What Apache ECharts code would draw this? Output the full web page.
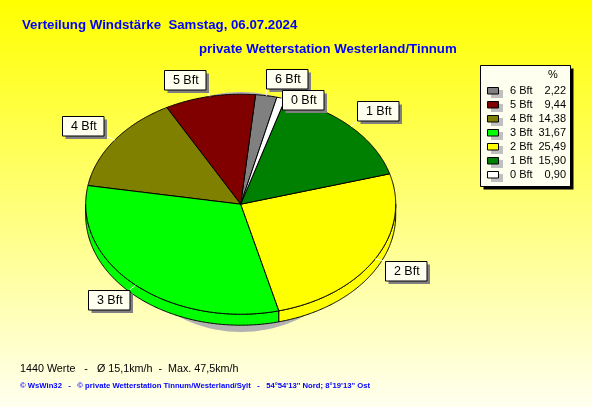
<!DOCTYPE html>
<html><head><meta charset="utf-8">
<style>html,body{margin:0;padding:0;background:#fff}#c{width:592px;height:407px}</style>
<script src="https://cdn.jsdelivr.net/npm/echarts@6/dist/echarts.min.js"></script>
</head><body><div id="c"></div>
<script>
// DATA
var categories = ['6 Bft','5 Bft','4 Bft','3 Bft','2 Bft','1 Bft','0 Bft'];
var percentLabels = ['2,22','9,44','14,38','31,67','25,49','15,90','0,90'];
var percentValues = [2.22,9.44,14.38,31.67,25.49,15.90,0.90];
var sliceColors = ['#808080','#800000','#808000','#00FF00','#FFFF00','#008000','#FFFFFF'];
var titleLine1 = 'Verteilung Windstärke  Samstag, 06.07.2024';
var titleLine2 = 'private Wetterstation Westerland/Tinnum';
var footerLine1 = '1440 Werte   -   Ø 15,1km/h  -  Max. 47,5km/h';
var footerLine2 = "© WsWin32   -   © private Wetterstation Tinnum/Westerland/Sylt   -   54°54'13'' Nord; 8°19'13'' Ost";

// LAYOUT
var PIE = {cx:240.7, cy:204.2, rx:155, ry:110, depth:11, start:13.5};
var LABEL_BOX = {
 '6 Bft':[266,69],'5 Bft':[164,70],'4 Bft':[62,116],'3 Bft':[88,290],
 '2 Bft':[385,261],'1 Bft':[357,101],'0 Bft':[282,90]
};
var BOX_W=41.5, BOX_H=19.5;

// clockwise from the top, starting with 0 Bft
var order = categories.map(function(_,i){return categories.length-1-i;});
var total = percentValues.reduce(function(a,b){return a+b;},0);
var from = {}, acc = 0;
order.forEach(function(i){from[i]=acc; acc+=percentValues[i];});
function deg(p){return PIE.start + p/total*360;}
function pt(a,dy){var t=a*Math.PI/180;return [PIE.cx+PIE.rx*Math.sin(t),PIE.cy-PIE.ry*Math.cos(t)+(dy||0)];}
function arc(a0,a1,dy){var n=Math.max(2,Math.ceil(Math.abs(a1-a0)*2)),r=[];for(var k=0;k<=n;k++)r.push(pt(a0+(a1-a0)*k/n,dy));return r;}
function range(v,i){var a0=deg(from[i]);return [a0,a0+v/total*360];}

var seriesData = categories.map(function(c,i){return {name:c,value:percentValues[i]};});

function sides(params,api){
  var i=params.dataIndex,r=range(api.value(0),i),a0=Math.max(r[0],90),a1=Math.min(r[1],270);
  if(a1<=a0) return {type:'group',children:[]};
  return {type:'polygon',shape:{points:arc(a0,a1,0).concat(arc(a1,a0,PIE.depth))},
    style:{fill:sliceColors[i],stroke:'#000',lineWidth:1}};
}
function tops(params,api){
  var i=params.dataIndex,r=range(api.value(0),i);
  return {type:'polygon',shape:{points:[[PIE.cx,PIE.cy]].concat(arc(r[0],r[1],0))},
    style:{fill:sliceColors[i],stroke:'#000',lineWidth:1}};
}
function labels(params,api){
  var i=params.dataIndex,r=range(api.value(0),i),b=LABEL_BOX[categories[i]];
  var p=pt((r[0]+r[1])/2,0);
  var q=[Math.min(Math.max(p[0],b[0]),b[0]+BOX_W),Math.min(Math.max(p[1],b[1]),b[1]+BOX_H)];
  return {type:'group',children:[
    {type:'line',shape:{x1:p[0],y1:p[1],x2:q[0],y2:q[1]},style:{stroke:'#FFFFF0',lineWidth:1}},
    {type:'rect',shape:{x:b[0]+3.5,y:b[1]+3.5,width:BOX_W,height:BOX_H},style:{fill:'#808080'}},
    {type:'rect',shape:{x:b[0]+.5,y:b[1]+.5,width:BOX_W,height:BOX_H},style:{fill:'#FFFFF0',stroke:'#000',lineWidth:1}},
    {type:'text',style:{x:b[0]+BOX_W/2+1,y:b[1]+BOX_H/2+1,text:categories[i],fill:'#000',align:'center',verticalAlign:'middle',font:'12.5px "Liberation Sans"'}}
  ]};
}

// legend panel
var legendEls = [
  {type:'ellipse',z:1,shape:{cx:241,cy:212,rx:127,ry:120},style:{fill:'#B2B2B2'}},
  {type:'rect',z:5,shape:{x:483.5,y:68.5,width:90,height:121},style:{fill:'#000'}},
  {type:'rect',z:6,shape:{x:480.5,y:65.5,width:90,height:121},style:{fill:'#FFFFF0',stroke:'#000',lineWidth:1}},
  {type:'text',z:7,style:{x:553,y:75,text:'%',fill:'#000',align:'center',verticalAlign:'middle',font:'11px "Liberation Sans"'}}
];
categories.forEach(function(c,i){
  var y=91+i*14;
  legendEls.push(
   {type:'rect',z:7,shape:{x:491,y:y-1,width:12,height:8},style:{fill:'#C0C0C0'}},
   {type:'rect',z:8,shape:{x:487.5,y:y-3.5,width:11,height:6.5},style:{fill:sliceColors[i],stroke:'#000',lineWidth:1}},
   {type:'text',z:8,style:{x:510,y:y,text:c,fill:'#000',verticalAlign:'middle',font:'11px "Liberation Sans"'}},
   {type:'text',z:8,style:{x:566,y:y,text:percentLabels[i],fill:'#000',align:'right',verticalAlign:'middle',font:'11px "Liberation Sans"'}}
  );
});

function titleAt(t,x,y,style){return {text:t,left:x,top:y,padding:0,textStyle:style};}
var blueBold={color:'#0000FF',fontWeight:'bold',fontSize:13.25,fontFamily:'Liberation Sans'};

var chart=echarts.init(document.getElementById('c'),null,{renderer:'canvas'});
chart.setOption({
  animation:false,
  backgroundColor:{type:'linear',x:0,y:0,x2:0,y2:1,colorStops:[{offset:0,color:'#FFFF00'},{offset:1,color:'#FFFFF0'}]},
  title:[
    titleAt(titleLine1,22,19,blueBold),
    titleAt(titleLine2,199,43,blueBold),
    titleAt(footerLine1,20,364,{color:'#000',fontWeight:'normal',fontSize:10.75,fontFamily:'Liberation Sans'}),
    titleAt(footerLine2,20,382,{color:'#0000FF',fontWeight:'bold',fontSize:7.7,fontFamily:'Liberation Sans'})
  ],
  graphic:{elements:legendEls},
  series:[
    {type:'custom',name:'side',coordinateSystem:'none',z:2,renderItem:sides,data:seriesData,silent:true},
    {type:'custom',name:'top',coordinateSystem:'none',z:3,renderItem:tops,data:seriesData,silent:true},
    {type:'custom',name:'labels',coordinateSystem:'none',z:4,renderItem:labels,data:seriesData,silent:true}
  ]
});
</script></body></html>
